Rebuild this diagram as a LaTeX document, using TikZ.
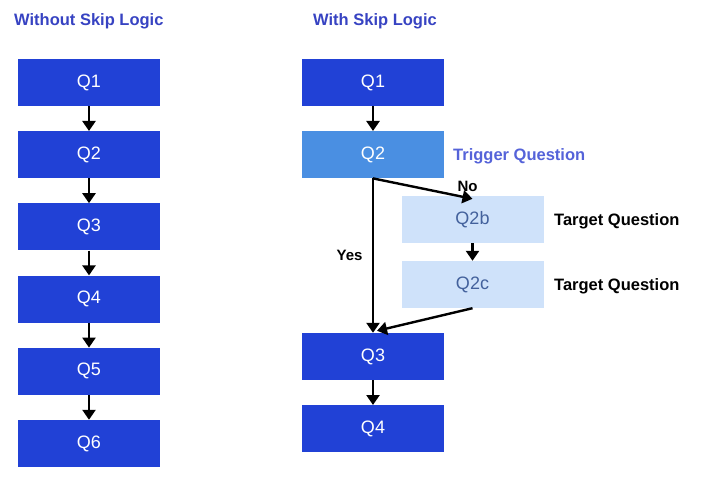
\documentclass[tikz,border=0pt]{standalone}
\usepackage{fontspec}
\setmainfont{Liberation Sans}
\usepackage{xcolor}
\usetikzlibrary{shapes.geometric, arrows, arrows.meta}
\definecolor{qblue}{HTML}{2141D6}
\definecolor{trigblue}{HTML}{4A8FE2}
\definecolor{targblue}{HTML}{CFE2FA}
\definecolor{targtext}{HTML}{43619C}
\definecolor{headblue}{HTML}{3743C2}
\definecolor{triglabel}{HTML}{5563D9}
\tikzstyle{qbox} = [rectangle, minimum width=142pt, minimum height=47pt, fill=qblue, text=white, font=\fontsize{18}{21}\selectfont]
\tikzstyle{trigbox} = [qbox, fill=trigblue]
\tikzstyle{targbox} = [qbox, fill=targblue, text=targtext]
\tikzstyle{arrow} = [line width=2.4pt,->,>={Triangle[width=13pt,length=10pt]}]
\tikzstyle{heading} = [font=\bfseries\fontsize{16.5}{20}\selectfont, text=headblue, anchor=base west, inner sep=0pt]
\tikzstyle{side} = [font=\bfseries\fontsize{16.5}{20}\selectfont, anchor=base west, inner sep=0pt]
\tikzstyle{answer} = [font=\bfseries\fontsize{15}{18}\selectfont]

\begin{document}
\begin{tikzpicture}[x=1pt, y=-1pt, node distance=72.2pt]
\useasboundingbox (0,0) rectangle (720,489);
\node[heading] (h1) at (14,26) {Without Skip Logic};
\node[heading] (h2) at (313,26) {With Skip Logic};

% without skip logic
\node[qbox] (a1) at (89,82.5) {Q1};
\node[qbox] (a2) [below of=a1] {Q2};
\node[qbox] (a3) [below of=a2] {Q3};
\node[qbox] (a4) [below of=a3] {Q4};
\node[qbox] (a5) [below of=a4] {Q5};
\node[qbox] (a6) [below of=a5] {Q6};

\draw [arrow] (a1) -- (a2);
\draw [arrow] (a2) -- (a3);
\draw [arrow] (a3) -- (a4);
\draw [arrow] (a4) -- (a5);
\draw [arrow] (a5) -- (a6);

% with skip logic
\node[qbox] (b1) at (373,82.5) {Q1};
\node[trigbox] (b2) [below of=b1] {Q2};
\node[targbox] (b2b) at (472.5,219.5) {Q2b};
\node[targbox] (b2c) [below of=b2b, node distance=65pt] {Q2c};
\node[qbox] (b3) at (373,356.5) {Q3};
\node[qbox] (b4) [below of=b3] {Q4};

\node[side, text=triglabel] (trig) at (453,161) {Trigger Question};
\node[side] (targ1) at (554,225.5) {Target Question};
\node[side] (targ2) at (554,290.5) {Target Question};

\draw [arrow] (b1) -- (b2);
\draw [arrow] (b2.south) -- node[answer, above, pos=0.95, yshift=2pt] {No} ([yshift=-3pt]b2b.north);
\draw [arrow] (b2b) -- (b2c);
\draw [arrow] (b2.south) -- node[answer, left, xshift=-6pt] {Yes} (b3.north);
\draw [arrow] (b2c.south) -- ([xshift=4pt,yshift=2pt]b3.north);
\draw [arrow] (b3) -- (b4);
\end{tikzpicture}
\end{document}
